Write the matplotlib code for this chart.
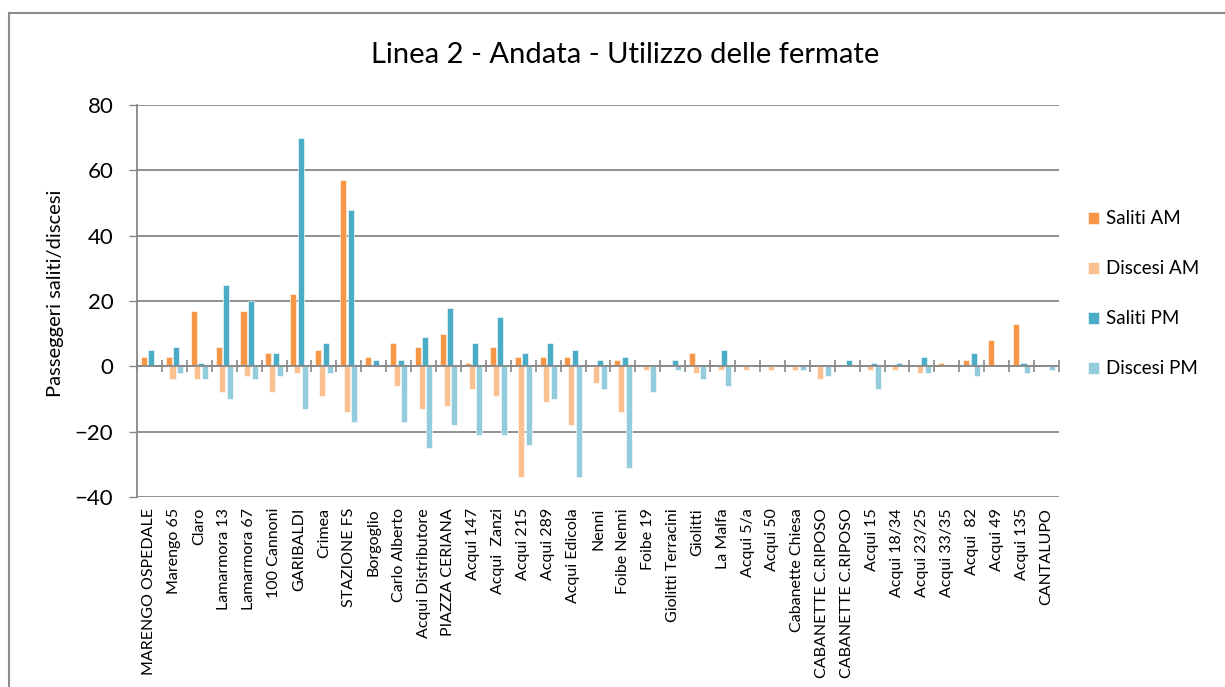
import matplotlib
matplotlib.use("Agg")
import matplotlib.pyplot as plt
import numpy as np
from matplotlib.lines import Line2D

plt.rcParams['font.family'] = ['Lato', 'DejaVu Sans']

fermate = [
    "MARENGO OSPEDALE", "Marengo 65", "Claro", "Lamarmora 13", "Lamarmora 67",
    "100 Cannoni", "GARIBALDI", "Crimea", "STAZIONE FS", "Borgoglio",
    "Carlo Alberto", "Acqui Distributore", "PIAZZA CERIANA", "Acqui 147",
    "Acqui  Zanzi", "Acqui 215", "Acqui 289", "Acqui Edicola", "Nenni",
    "Foibe Nenni", "Foibe 19", "Giolitti Terracini", "Giolitti", "La Malfa",
    "Acqui 5/a", "Acqui 50", "Cabanette Chiesa", "CABANETTE C.RIPOSO",
    "CABANETTE C.RIPOSO", "Acqui 15", "Acqui 18/34", "Acqui 23/25",
    "Acqui 33/35", "Acqui  82", "Acqui 49", "Acqui 135", "CANTALUPO",
]

saliti_am = [3, 3, 17, 6, 17, 4, 22, 5, 57, 3, 7, 6, 10, 1, 6, 3, 3, 3, 0,
             2, 0, 0, 4, 0, 0, 0, 0, 0, 0, 0, 0, 0, 1, 2, 8, 13, 0]
discesi_am = [0, -4, -4, -8, -3, -8, -2, -9, -14, 0, -6, -13, -12, -7, -9, -34,
              -11, -18, -5, -14, -1, 0, -2, -1, -1, -1, -1, -4, 0, -1, -1, -2,
              0, 0, 0, 0, 0]
saliti_pm = [5, 6, 1, 25, 20, 4, 70, 7, 48, 2, 2, 9, 18, 7, 15, 4, 7, 5, 2,
             3, 0, 2, 0, 5, 0, 0, 0, 0, 2, 1, 1, 3, 0, 4, 0, 1, 0]
discesi_pm = [0, -2, -4, -10, -4, -3, -13, -2, -17, 0, -17, -25, -18, -21, -21,
              -24, -10, -34, -7, -31, -8, -1, -4, -6, 0, 0, -1, -3, 0, -7, 0,
              -2, 0, -3, 0, -2, -1]

series = [
    ("Saliti AM", saliti_am, "#F79646"),
    ("Discesi AM", discesi_am, "#FAC090"),
    ("Saliti PM", saliti_pm, "#4BACC6"),
    ("Discesi PM", discesi_pm, "#93CDDD"),
]

y_ticks = [-40, -20, 0, 20, 40, 60, 80]

W, H = 1225, 687
fig = plt.figure(figsize=(W / 100, H / 100), dpi=100)
ax = fig.add_axes([137 / W, 1 - 497 / H, (1059 - 137) / W, (497 - 105) / H])

x = np.arange(len(fermate))
width = 0.242
step = 0.151
offsets = (np.arange(len(series)) - 1.5) * step
for (name, vals, col), off in zip(series, offsets):
    ax.bar(x + off, vals, width, color=col, label=name,
           edgecolor="white", linewidth=0.4, zorder=3)

grid_col = "#888888"
ax.set_ylim(-40, 80)
ax.set_xlim(-0.5, len(fermate) - 0.5)
ax.set_yticks(y_ticks)
ax.yaxis.grid(True, color=grid_col, linewidth=1.3, zorder=0)
ax.tick_params(axis="y", length=6, width=1, color=grid_col, pad=11,
               labelsize=16)
for s in ("top", "right", "bottom"):
    ax.spines[s].set_visible(False)
ax.spines["left"].set_color(grid_col)
ax.spines["left"].set_linewidth(1.3)

ax.set_xticks(x)
ax.set_xticklabels(fermate, rotation=90, fontsize=11.5)
ax.tick_params(axis="x", length=0, pad=8)

# category axis drawn on the zero line, with ticks between categories
zero_pos = (0 - (-40)) / 120
sec = ax.secondary_xaxis(zero_pos)
sec.set_xticks(np.arange(len(fermate) + 1) - 0.5)
sec.set_xticklabels([])
sec.tick_params(axis="x", direction="inout", length=8, width=1.2,
                color=grid_col)
sec.spines["bottom"].set_visible(False)
sec.spines["top"].set_color(grid_col)
sec.spines["top"].set_linewidth(1.3)
ax.axhline(0, color=grid_col, linewidth=1.3, zorder=4)

ax.set_ylabel("Passeggeri saliti/discesi", fontsize=14.5)
ax.yaxis.set_label_coords(-(137 - 64) / (1059 - 137), (497 - 293) / (497 - 105))

fig.text(625 / W, 1 - 55 / H, "Linea 2 - Andata - Utilizzo delle fermate",
         ha="center", va="center", fontsize=21)

fig.legend(*ax.get_legend_handles_labels(), loc="center left",
           bbox_to_anchor=(1071 / W, 1 - 294 / H),
           bbox_transform=fig.transFigure,
           frameon=False, fontsize=13.5, handlelength=0.6, handleheight=0.6,
           handletextpad=0.35, labelspacing=1.76)

# outer chart frame
fig.add_artist(Line2D([9 / W, 1], [1 - 13 / H, 1 - 13 / H],
                      transform=fig.transFigure, color="#8c8c8c", linewidth=1.5))
fig.add_artist(Line2D([9 / W, 9 / W], [0, 1 - 13 / H],
                      transform=fig.transFigure, color="#8c8c8c", linewidth=1.5))

fig.savefig("out.png", dpi=100)
